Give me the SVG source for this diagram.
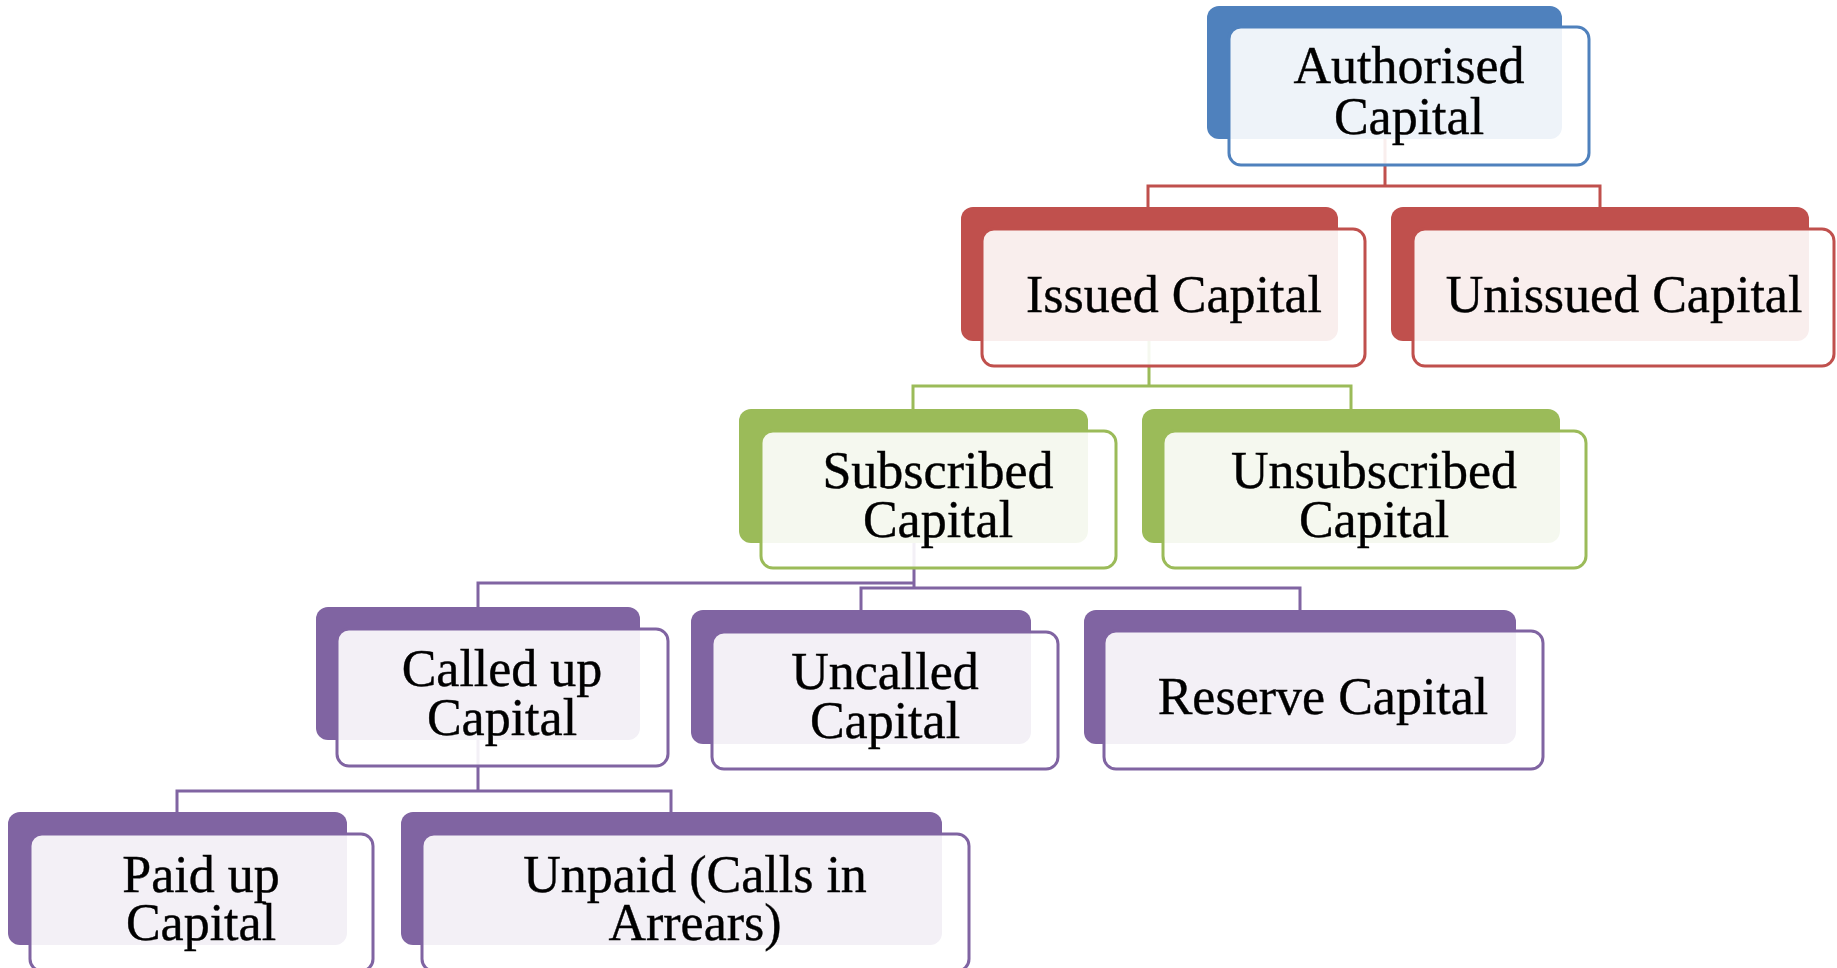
<svg xmlns="http://www.w3.org/2000/svg" width="1837" height="968" viewBox="0 0 1837 968">
<style>
  .bk { stroke: none; }
  .fr { fill: #ffffff; fill-opacity: 0.9; stroke-width: 3; }
  .blue .bk { fill: #4F81BD; } .blue .fr { stroke: #4F81BD; }
  .red .bk { fill: #C0504D; } .red .fr { stroke: #C0504D; }
  .green .bk { fill: #9BBB59; } .green .fr { stroke: #9BBB59; }
  .purple .bk { fill: #8064A2; } .purple .fr { stroke: #8064A2; }
  text { font-family: "Liberation Serif", "Times New Roman", serif; font-size: 52px; fill: #000; text-anchor: middle; stroke: #000; stroke-width: 0.4; }
  .c { fill: none; stroke-width: 3; }
  .cr { stroke: #C0504D; } .cg { stroke: #9BBB59; } .cp { stroke: #8064A2; }
</style>
<rect width="1837" height="968" fill="#ffffff"/>
<g id="connectors">
  <path class="c cr" d="M1385 139 V186 M1148 207 V186 H1600 V207"/>
  <path class="c cg" d="M1149 341 V386 M913 409 V386 H1351 V409"/>
  <path class="c cp" d="M914 543 V588 M478 607 V583 H914 M861 610 V588 H1300 V610"/>
  <path class="c cp" d="M478 740 V791 M177 812 V791 H671 V812"/>
</g>
<g id="authorised" class="blue">
  <rect class="bk" x="1207" y="6" width="355" height="133" rx="12"/>
  <rect class="fr" x="1229" y="27" width="360" height="138" rx="12"/>
  <text x="1409" y="83">Authorised</text>
  <text x="1409" y="134">Capital</text>
</g>
<g id="issued" class="red">
  <rect class="bk" x="961" y="207" width="377" height="134" rx="12"/>
  <rect class="fr" x="982" y="229" width="383" height="137" rx="12"/>
  <text x="1174" y="312">Issued Capital</text>
</g>
<g id="unissued" class="red">
  <rect class="bk" x="1391" y="207" width="418" height="134" rx="12"/>
  <rect class="fr" x="1413" y="229" width="421" height="137" rx="12"/>
  <text x="1624" y="312">Unissued Capital</text>
</g>
<g id="subscribed" class="green">
  <rect class="bk" x="739" y="409" width="349" height="134" rx="12"/>
  <rect class="fr" x="761" y="431" width="355" height="137" rx="12"/>
  <text x="938" y="488">Subscribed</text>
  <text x="938" y="537">Capital</text>
</g>
<g id="unsubscribed" class="green">
  <rect class="bk" x="1142" y="409" width="418" height="134" rx="12"/>
  <rect class="fr" x="1163" y="431" width="423" height="137" rx="12"/>
  <text x="1374" y="488">Unsubscribed</text>
  <text x="1374" y="537">Capital</text>
</g>
<g id="calledup" class="purple">
  <rect class="bk" x="316" y="607" width="324" height="133" rx="12"/>
  <rect class="fr" x="337" y="629" width="331" height="137" rx="12"/>
  <text x="502" y="686">Called up</text>
  <text x="502" y="735">Capital</text>
</g>
<g id="uncalled" class="purple">
  <rect class="bk" x="691" y="610" width="340" height="134" rx="12"/>
  <rect class="fr" x="712" y="632" width="346" height="137" rx="12"/>
  <text x="885" y="689">Uncalled</text>
  <text x="885" y="738">Capital</text>
</g>
<g id="reserve" class="purple">
  <rect class="bk" x="1084" y="610" width="432" height="134" rx="12"/>
  <rect class="fr" x="1104" y="631" width="439" height="138" rx="12"/>
  <text x="1323" y="714">Reserve Capital</text>
</g>
<g id="paidup" class="purple">
  <rect class="bk" x="8" y="812" width="339" height="133" rx="12"/>
  <rect class="fr" x="30" y="834" width="343" height="137" rx="12"/>
  <text x="201" y="892">Paid up</text>
  <text x="201" y="940">Capital</text>
</g>
<g id="unpaid" class="purple">
  <rect class="bk" x="401" y="812" width="541" height="133" rx="12"/>
  <rect class="fr" x="422" y="834" width="547" height="137" rx="12"/>
  <text x="695" y="892">Unpaid (Calls in</text>
  <text x="695" y="940">Arrears)</text>
</g>
</svg>
